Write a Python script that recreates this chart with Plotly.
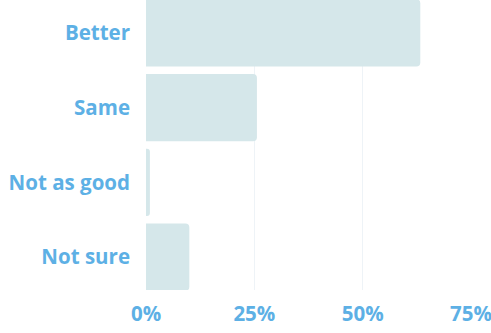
import plotly.graph_objects as go

categories = ["Better", "Same", "Not as good", "Not sure"]
shares = [63.3, 25.6, 0.9, 10.0]
tick_vals = [0, 25, 50, 75]
tick_text = ["0%", "25%", "50%", "75%"]

label_blue = "#5DB0E5"

fig = go.Figure(
    go.Bar(
        x=shares,
        y=categories,
        orientation="h",
        width=0.9,
        marker=dict(color="#D5E7EA", cornerradius=4, line=dict(width=0)),
        hoverinfo="skip",
    )
)

fig.update_layout(
    width=491,
    height=333,
    margin=dict(l=146, r=20, t=0, b=43, pad=0),
    plot_bgcolor="white",
    paper_bgcolor="white",
    showlegend=False,
    font=dict(family="Open Sans", size=20.5, color=label_blue),
)

fig.update_xaxes(
    range=[0, 75],
    tickvals=tick_vals,
    ticktext=tick_text,
    showgrid=True,
    gridcolor="#EEF3F7",
    gridwidth=1,
    zeroline=False,
    showline=False,
    ticks="",
    automargin=False,
    ticklabeloverflow="allow",
    ticklabelstandoff=9,
    tickfont=dict(family="Open Sans", size=20.5, color=label_blue, weight="bold"),
)

fig.update_yaxes(
    range=[3.44, -0.44],
    showgrid=False,
    zeroline=False,
    showline=False,
    ticks="",
    automargin=False,
    ticklabelstandoff=15,
    tickfont=dict(family="Open Sans", size=20.5, color=label_blue, weight="bold"),
)

# page body has a default 8px margin; drop it so the chart sits at the corner
fig.write_html(
    "out.html",
    config={"displayModeBar": False},
    post_script="document.body.style.margin='0';",
)
